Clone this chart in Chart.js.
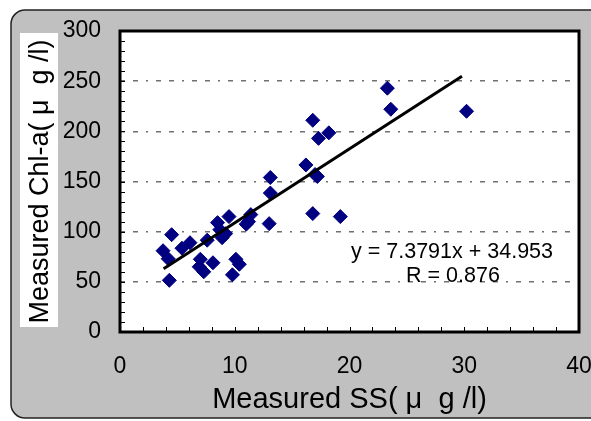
<!DOCTYPE html>
<html lang="en">
<head>
    <meta charset="UTF-8">
    <title>SS vs Chl-a</title>
    <script src="https://cdn.jsdelivr.net/npm/chart.js"></script>
    <style>
        body { margin: 0; overflow: hidden; background: #fff; }
        #grafico { display: block; }
    </style>
</head>
<body>
    <canvas id="grafico" width="600" height="421"></canvas>
<script>
    // valores
    const ssValues = [3.75, 4.2, 4.3, 4.5, 5.4, 6.1, 7.0, 6.9, 7.3, 7.6, 8.1, 8.5, 8.7, 8.9, 9.2, 9.5, 9.8, 10.1, 10.4, 11.0,
                      11.4, 13.0, 13.1, 13.1, 16.2, 16.8, 16.8, 17.3, 17.2, 18.2, 19.2, 23.3, 23.6, 30.2, 17.0, 11.2];
    const chlValues = [81, 73, 51.5, 97, 83.5, 89, 72.5, 65, 60, 91.5, 69, 109, 102, 94, 98, 115, 57, 72.5, 67.5, 107.5,
                       117, 108, 138.5, 154, 166.5, 211, 118, 193, 155, 198.5, 115, 243, 222, 220, 157, 110];
    // linha de tendencia (extremos)
    const trendX = [3.8, 29.8];
    const trendY = [63, 255];
    const xTicks = [0, 10, 20, 30, 40];
    const yTicks = [0, 50, 100, 150, 200, 250, 300];
    const equationText = 'y = 7.3791x + 34.953';
    const rText = 'R = 0.876';

    const fonte = 'Liberation Sans, Arial, sans-serif';

    // fundo cinza, area branca e caixa branca do titulo Y
    const fundoPlugin = {
        id: 'fundo',
        beforeDraw(chart) {
            const ctx = chart.ctx;
            const a = chart.chartArea;
            ctx.save();
            ctx.fillStyle = '#fff';
            ctx.fillRect(0, 0, chart.width, chart.height);
            ctx.beginPath();
            ctx.roundRect(11, 10, chart.width + 30, 408, 14);
            ctx.fillStyle = '#c0c0c0';
            ctx.fill();
            ctx.lineWidth = 1.5;
            ctx.strokeStyle = '#222';
            ctx.stroke();
            ctx.fillStyle = '#fff';
            ctx.fillRect(20, 33, 38, 294);
            ctx.fillRect(a.left, a.top, a.right - a.left, a.bottom - a.top);
            ctx.restore();
        },
        afterDraw(chart) {
            const ctx = chart.ctx;
            const a = chart.chartArea;
            const sx = chart.scales.x;
            const sy = chart.scales.y;
            ctx.save();
            // pequenos ticks internos
            ctx.strokeStyle = '#000';
            ctx.lineWidth = 1;
            ctx.beginPath();
            for (let v = 0; v <= 300; v += 10) {
                const py = Math.round(sy.getPixelForValue(v)) + 0.5;
                ctx.moveTo(a.left, py);
                ctx.lineTo(a.left + 5, py);
            }
            for (let v = 0; v <= 40; v += 2) {
                const px = Math.round(sx.getPixelForValue(v)) + 0.5;
                ctx.moveTo(px, a.bottom);
                ctx.lineTo(px, a.bottom - 5);
            }
            ctx.stroke();
            // borda da area do grafico
            ctx.lineWidth = 3;
            ctx.strokeRect(a.left, a.top, a.right - a.left, a.bottom - a.top);
            // equacao
            ctx.fillStyle = '#000';
            ctx.font = '21.5px ' + fonte;
            ctx.textAlign = 'center';
            ctx.textBaseline = 'middle';
            ctx.fillText(equationText, 452, 252);
            ctx.fillText(rText, 453, 276);
            ctx.restore();
        }
    };

    const dados = {
        datasets: [{
            type: 'line',
            data: trendX.map((x, i) => ({ x: x, y: trendY[i] })),
            borderColor: '#000',
            borderWidth: 3,
            pointRadius: 0,
            fill: false,
            order: 0
        }, {
            type: 'scatter',
            data: ssValues.map((x, i) => ({ x: x, y: chlValues[i] })),
            backgroundColor: '#000080',
            borderColor: '#000080',
            borderWidth: 1,
            pointStyle: 'rectRot',
            pointRadius: 7,
            order: 1
        }]
    };

    const config = {
        type: 'scatter',
        data: dados,
        options: {
            responsive: false,
            animation: false,
            layout: { padding: { left: 0, top: 31, right: 21, bottom: 0 } },
            plugins: { legend: { display: false }, tooltip: { enabled: false } },
            scales: {
                x: {
                    type: 'linear', min: 0, max: 40,
                    afterBuildTicks: (s) => { s.ticks = xTicks.map(v => ({ value: v })); },
                    afterFit: (s) => { s.height = 89; s.paddingLeft = 0; s.paddingRight = 0; },
                    grid: { display: false, drawTicks: false },
                    border: { display: false },
                    ticks: { color: '#000', padding: 21, font: { family: fonte, size: 23 } },
                    title: {
                        display: true, text: 'Measured SS( μ  g /l)', color: '#000',
                        font: { family: fonte, size: 29 }, padding: { top: 0, bottom: 4 }
                    }
                },
                y: {
                    min: 0, max: 300,
                    afterBuildTicks: (s) => { s.ticks = yTicks.map(v => ({ value: v })); },
                    afterFit: (s) => { s.width = 120; s.paddingTop = 0; s.paddingBottom = 0; },
                    grid: {
                        drawTicks: false,
                        color: (c) => (c.tick && (c.tick.value === 0 || c.tick.value === 300)) ? 'rgba(0,0,0,0)' : '#707070',
                        lineWidth: 1.5
                    },
                    border: { display: false, dash: [5, 8, 5, 8, 2, 8] },
                    ticks: { color: '#000', padding: 19, font: { family: fonte, size: 23 } },
                    title: {
                        display: true, text: 'Measured Chl-a( μ  g /l)', color: '#000',
                        font: { family: fonte, size: 27 }, padding: { top: 24, bottom: 0 }
                    }
                }
            }
        },
        plugins: [fundoPlugin]
    };

    new Chart(document.getElementById('grafico'), config);
</script>
</body>
</html>
